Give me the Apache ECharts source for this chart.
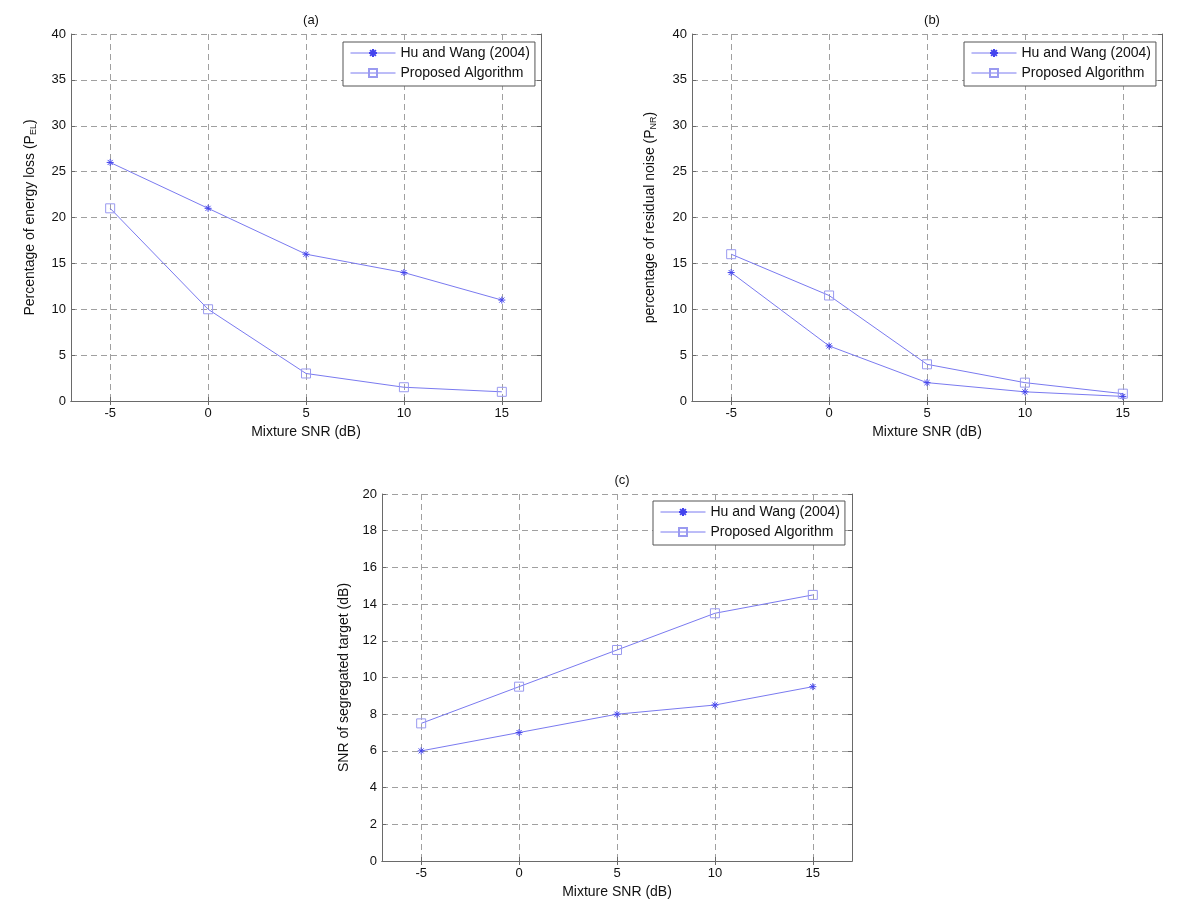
<!DOCTYPE html>
<html>
<head>
<meta charset="utf-8">
<script src="https://cdn.jsdelivr.net/npm/echarts@6/dist/echarts.min.js"></script>
<style>
html,body{margin:0;padding:0;background:#fff;}
#chart{width:1200px;height:924px;}
</style>
</head>
<body>
<div id="chart"></div>
<script>
// ---- data ----
const snr = [-5, 0, 5, 10, 15];
const xTicks = [-5, 0, 5, 10, 15];
const seriesNames = ['Hu and Wang (2004)', 'Proposed Algorithm'];
const panelTitles = ['(a)', '(b)', '(c)'];
const xAxisName = 'Mixture SNR (dB)';
const yNames = [
  'Percentage of energy loss (P{sub|EL})',
  'percentage of residual noise (P{sub|NR})',
  'SNR of segregated target (dB)'
];
const huA = [26, 21, 16, 14, 11];
const propA = [21, 10, 3, 1.5, 1];
const huB = [14, 6, 2, 1, 0.5];
const propB = [16, 11.5, 4, 2, 0.8];
const huC = [6, 7, 8, 8.5, 9.5];
const propC = [7.5, 9.5, 11.5, 13.5, 14.5];
const yMax = [40, 40, 20];
const yStep = [5, 5, 2];

const hu = [huA, huB, huC];
const prop = [propA, propB, propC];

// ---- layout ----
const grids = [
  {left: 71, top: 34, width: 470, height: 367},
  {left: 692, top: 34, width: 470, height: 367},
  {left: 382, top: 494, width: 470, height: 367}
];
const legendPos = [
  {left: 343, top: 42},
  {left: 964, top: 42},
  {left: 653, top: 501}
];
const yNameGap = [33, 34, 31];

const FONT = 'Liberation Sans, Arial, sans-serif';
const lineColor = '#7a7af0';
const starColor = '#4444ee';
const sqColor = '#9a9af0';
const frame = '#6a6a6a';
const starPath = 'path://M0,-5L0,5M-5,0L5,0M-3.6,-3.6L3.6,3.6M-3.6,3.6L3.6,-3.6';

const gridLine = {show: true, lineStyle: {color: '#a0a0a0', type: [6, 4], width: 1}};

const xAxes = [], yAxes = [], series = [], titles = [], legends = [];
for (let i = 0; i < 3; i++) {
  const g = grids[i];
  titles.push({
    text: panelTitles[i],
    left: g.left + g.width / 2, top: g.top - 25, textAlign: 'center',
    textStyle: {fontFamily: FONT, fontSize: 13, fontWeight: 'normal', color: '#111'}
  });
  xAxes.push({
    gridIndex: i, type: 'value', min: -7, max: 17,
    name: xAxisName, nameLocation: 'middle', nameGap: 24,
    nameTextStyle: {fontFamily: FONT, fontSize: 14, color: '#111'},
    axisLine: {show: true, onZero: false, lineStyle: {color: frame}},
    axisTick: {show: true, inside: true, length: 4, customValues: xTicks, lineStyle: {color: frame}},
    axisLabel: {customValues: xTicks, fontFamily: FONT, fontSize: 13, color: '#111', margin: 6},
    splitLine: gridLine
  });
  xAxes.push({
    gridIndex: i, type: 'value', min: -7, max: 17, position: 'top',
    axisLine: {show: true, lineStyle: {color: frame}},
    axisTick: {show: true, inside: true, length: 4, customValues: xTicks, lineStyle: {color: frame}},
    axisLabel: {show: false},
    splitLine: {show: false}
  });
  yAxes.push({
    gridIndex: i, type: 'value', min: 0, max: yMax[i], interval: yStep[i],
    name: yNames[i], nameLocation: 'middle', nameGap: yNameGap[i],
    nameTextStyle: {
      fontFamily: FONT, fontSize: 14, color: '#111',
      rich: {sub: {fontFamily: FONT, fontSize: 9, color: '#111', verticalAlign: 'bottom', padding: [7, 0, 0, 0]}}
    },
    axisLine: {show: true, onZero: false, lineStyle: {color: frame}},
    axisTick: {show: true, inside: true, length: 4, lineStyle: {color: frame}},
    axisLabel: {fontFamily: FONT, fontSize: 13, color: '#111', margin: 5},
    splitLine: gridLine
  });
  yAxes.push({
    gridIndex: i, type: 'value', min: 0, max: yMax[i], interval: yStep[i], position: 'right',
    axisLine: {show: true, onZero: false, lineStyle: {color: frame}},
    axisTick: {show: true, inside: true, length: 4, lineStyle: {color: frame}},
    axisLabel: {show: false},
    splitLine: {show: false}
  });
  series.push({
    name: seriesNames[0], type: 'line', xAxisIndex: 2 * i, yAxisIndex: 2 * i,
    data: snr.map((x, k) => [x, hu[i][k]]),
    symbol: starPath, symbolSize: 7,
    lineStyle: {color: lineColor, width: 1},
    itemStyle: {color: 'rgba(0,0,0,0)', borderColor: starColor, borderWidth: 1},
    emphasis: {disabled: true}, animation: false
  });
  series.push({
    name: seriesNames[1], type: 'line', xAxisIndex: 2 * i, yAxisIndex: 2 * i,
    data: snr.map((x, k) => [x, prop[i][k]]),
    symbol: 'rect', symbolSize: 9,
    lineStyle: {color: lineColor, width: 1},
    itemStyle: {color: 'rgba(0,0,0,0)', borderColor: sqColor, borderWidth: 1},
    emphasis: {disabled: true}, animation: false
  });
  legends.push({
    data: seriesNames, orient: 'vertical',
    left: legendPos[i].left, top: legendPos[i].top,
    padding: [4, 5, 6, 7], itemGap: 6, itemWidth: 45, itemHeight: 10,
    lineStyle: {width: 1},
    backgroundColor: '#fff', borderColor: '#555', borderWidth: 1,
    textStyle: {fontFamily: FONT, fontSize: 14, color: '#111'},
    selectedMode: false
  });
}

const chart = echarts.init(document.getElementById('chart'), null, {renderer: 'canvas'});
chart.setOption({
  backgroundColor: '#fff',
  animation: false,
  title: titles,
  legend: legends,
  grid: grids,
  xAxis: xAxes,
  yAxis: yAxes,
  series: series
});
</script>
</body>
</html>
